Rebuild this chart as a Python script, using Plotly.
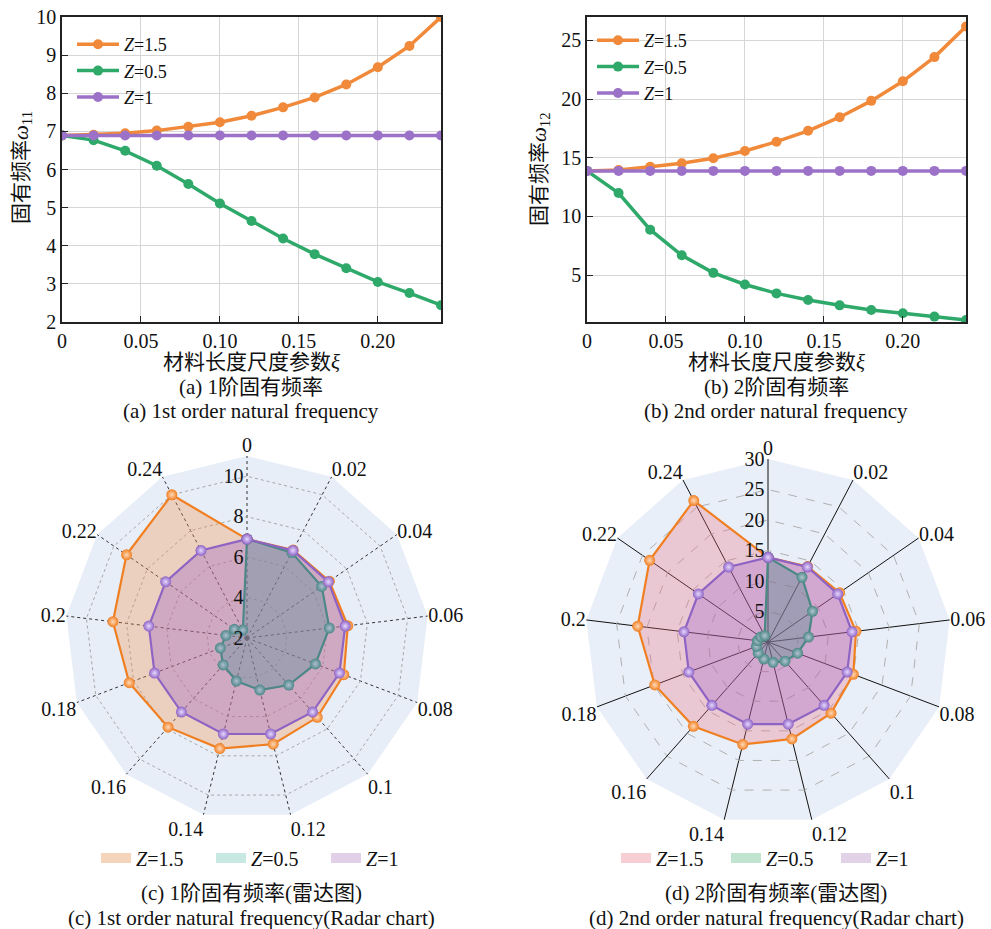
import plotly.graph_objects as go

# ---------------- data ----------------
xi = [0, 0.02, 0.04, 0.06, 0.08, 0.10, 0.12, 0.14, 0.16, 0.18, 0.20, 0.22, 0.24]
theta_labels = ['0', '0.02', '0.04', '0.06', '0.08', '0.1', '0.12',
                '0.14', '0.16', '0.18', '0.2', '0.22', '0.24']
series_names = ['<i>Z</i>=1.5', '<i>Z</i>=0.5', '<i>Z</i>=1']

w1_z15 = [6.89, 6.91, 6.95, 7.02, 7.12, 7.24, 7.41, 7.63, 7.89, 8.23, 8.68, 9.24, 10.0]
w1_z05 = [6.89, 6.77, 6.49, 6.10, 5.62, 5.11, 4.65, 4.19, 3.78, 3.41, 3.05, 2.76, 2.44]
w1_z1 = [6.89, 6.89, 6.89, 6.89, 6.89, 6.89, 6.89, 6.89, 6.89, 6.89, 6.89, 6.89, 6.89]

w2_z15 = [13.88, 13.96, 14.24, 14.53, 14.96, 15.58, 16.37, 17.30, 18.46, 19.85, 21.52, 23.58, 26.19]
w2_z05 = [13.88, 11.99, 8.87, 6.69, 5.19, 4.20, 3.44, 2.87, 2.42, 2.02, 1.74, 1.46, 1.17]
w2_z1 = [13.88, 13.88, 13.88, 13.88, 13.88, 13.88, 13.88, 13.88, 13.88, 13.88, 13.88, 13.88, 13.88]

x_tickvals = [0, 0.05, 0.10, 0.15, 0.20]
x_ticktext = ['0', '0.05', '0.10', '0.15', '0.20']

# ---------------- style ----------------
W, H = 991, 929
FONT = "Liberation Serif, Noto Sans CJK SC, serif"
ORANGE = '#F08A3A'
GREEN = '#2EA96A'
PURPLE = '#9C72C8'


def px(x):
    return x / W


def py(y):
    return 1 - y / H


fig = go.Figure()

# ---------------- line charts ----------------
line_sets = [
    ([w1_z15, w1_z05, w1_z1], 'x', 'y', 'legend'),
    ([w2_z15, w2_z05, w2_z1], 'x2', 'y2', 'legend2'),
]
for vals, xa, ya, lg in line_sets:
    for v, name, col in zip(vals, series_names, [ORANGE, GREEN, PURPLE]):
        fig.add_trace(go.Scatter(
            x=xi, y=v, name=name, mode='lines+markers',
            line=dict(color=col, width=3.5),
            marker=dict(color=col, size=10),
            xaxis=xa, yaxis=ya, legend=lg, cliponaxis=True))

# ---------------- radar charts ----------------
radar_sets = [
    ('polar', 'legend3', [w1_z15, w1_z05, w1_z1],
     ['rgba(250,140,60,0.30)', 'rgba(50,165,130,0.35)', 'rgba(150,90,200,0.33)'],
     ['rgba(245,212,188,1)', 'rgba(200,232,226,1)', 'rgba(226,208,232,1)']),
    ('polar2', 'legend4', [w2_z15, w2_z05, w2_z1],
     ['rgba(240,110,125,0.30)', 'rgba(40,160,110,0.35)', 'rgba(150,85,200,0.29)'],
     ['rgba(246,206,212,1)', 'rgba(192,228,208,1)', 'rgba(226,210,232,1)']),
]
marker_cols = ['#F07F22', '#2A9D68', '#8E63C4']
highlight = ['#FFD9B8', '#BFF0D6', '#E6D8FF']
for sp, lg, vals, fills, legfills in radar_sets:
    for v, name, fc, mc, hl in zip(vals, series_names, fills, marker_cols, highlight):
        fig.add_trace(go.Scatterpolar(
            r=v + v[:1], theta=theta_labels + theta_labels[:1],
            mode='lines+markers', fill='toself', fillcolor=fc,
            line=dict(color=mc, width=2.2),
            marker=dict(color=mc, size=11,
                        gradient=dict(type='radial', color=hl)),
            subplot=sp, showlegend=False, name=name))
    for name, lf in zip(series_names, legfills):
        fig.add_trace(go.Scatterpolar(
            r=[None], theta=[None], mode='lines',
            line=dict(color=lf, width=17),
            name=name, subplot=sp, legend=lg, showlegend=True))

# ---------------- axes ----------------
axis_common = dict(showline=True, linecolor='#222', linewidth=1.5, mirror=True,
                   ticks='inside', ticklen=6, tickcolor='#222',
                   showgrid=True, gridcolor='#d6d6d6', gridwidth=1,
                   zeroline=False, tickfont=dict(family=FONT, size=20, color='#111'),
                   automargin=False)

fig.update_layout(
    width=W, height=H, margin=dict(l=0, r=0, t=0, b=0),
    paper_bgcolor='white', plot_bgcolor='white',
    font=dict(family=FONT, size=20, color='#111'),
    xaxis=dict(domain=[px(62), px(441)], range=[0, 0.24], anchor='y',
               tickvals=x_tickvals, ticktext=x_ticktext, **axis_common),
    yaxis=dict(domain=[py(322), py(17)], range=[2, 10], anchor='x',
               dtick=1, **axis_common),
    xaxis2=dict(domain=[px(587), px(966)], range=[0, 0.24], anchor='y2',
                tickvals=x_tickvals, ticktext=x_ticktext, **axis_common),
    yaxis2=dict(domain=[py(322), py(17)], range=[1, 27], anchor='x2',
                tickvals=[5, 10, 15, 20, 25], **axis_common),
    legend=dict(x=px(72), y=py(26), xanchor='left', yanchor='top',
                bgcolor='rgba(0,0,0,0)', font=dict(family=FONT, size=18),
                tracegroupgap=0, itemwidth=42),
    legend2=dict(x=px(592), y=py(22), xanchor='left', yanchor='top',
                 bgcolor='rgba(0,0,0,0)', font=dict(family=FONT, size=18),
                 tracegroupgap=0, itemwidth=42),
    legend3=dict(x=px(96), y=py(858), xanchor='left', yanchor='middle',
                 orientation='h', bgcolor='rgba(0,0,0,0)',
                 font=dict(family=FONT, size=20), entrywidth=70),
    legend4=dict(x=px(616), y=py(858), xanchor='left', yanchor='middle',
                 orientation='h', bgcolor='rgba(0,0,0,0)',
                 font=dict(family=FONT, size=20), entrywidth=65),
)

c_cx, c_cy, c_r = 247, 638, 182
d_cx, d_cy, d_r = 768, 642, 183

fig.update_layout(
    polar=dict(
        domain=dict(x=[px(c_cx - c_r), px(c_cx + c_r)], y=[py(c_cy + c_r), py(c_cy - c_r)]),
        gridshape='linear', bgcolor='#E7EEF8',
        radialaxis=dict(range=[2, 11], tickvals=[2, 4, 6, 8, 10], angle=90, tickangle=90,
                        side='counterclockwise', showline=False, ticks='',
                        gridcolor='#a8a8a8', griddash='dot', gridwidth=1,
                        tickfont=dict(family=FONT, size=20, color='#111')),
        angularaxis=dict(type='category', categoryarray=theta_labels,
                         direction='clockwise', rotation=90, showline=False, ticks='',
                         gridcolor='#333', griddash='dot', gridwidth=1,
                         tickfont=dict(family=FONT, size=20, color='#111')),
    ),
    polar2=dict(
        domain=dict(x=[px(d_cx - d_r), px(d_cx + d_r)], y=[py(d_cy + d_r), py(d_cy - d_r)]),
        gridshape='linear', bgcolor='#E9EFF8',
        radialaxis=dict(range=[0, 30], tickvals=[5, 10, 15, 20, 25, 30], angle=90, tickangle=90,
                        side='counterclockwise', showline=False, ticks='',
                        gridcolor='#b0b0b0', griddash='dash', gridwidth=1,
                        tickfont=dict(family=FONT, size=20, color='#111')),
        angularaxis=dict(type='category', categoryarray=theta_labels,
                         direction='clockwise', rotation=90, showline=False, ticks='',
                         gridcolor='#111', gridwidth=1.2,
                         tickfont=dict(family=FONT, size=20, color='#111')),
    ),
)

# ---------------- text annotations ----------------
texts = [
    (251, 362, '材料长度尺度参数<i>ξ</i>', 21, 0),
    (776, 362, '材料长度尺度参数<i>ξ</i>', 21, 0),
    (251, 387, '(a) 1阶固有频率', 21, 0),
    (776, 387, '(b) 2阶固有频率', 21, 0),
    (251, 411, '(a) 1st order natural frequency', 21, 0),
    (776, 411, '(b) 2nd order natural frequency', 21, 0),
    (251, 893, '(c) 1阶固有频率(雷达图)', 21, 0),
    (776, 893, '(d) 2阶固有频率(雷达图)', 21, 0),
    (251, 918, '(c) 1st order natural frequency(Radar chart)', 21, 0),
    (776, 918, '(d) 2nd order natural frequency(Radar chart)', 21, 0),
    (22, 168, '固有频率<i>ω</i><sub>11</sub>', 21, -90),
    (540, 169, '固有频率<i>ω</i><sub>12</sub>', 21, -90),
]
for x, y, t, s, ang in texts:
    fig.add_annotation(x=px(x), y=py(y), xref='paper', yref='paper', text=t,
                       showarrow=False, textangle=ang, xanchor='center', yanchor='middle',
                       font=dict(family=FONT, size=s, color='#111'))

fig.write_html("out.html")
